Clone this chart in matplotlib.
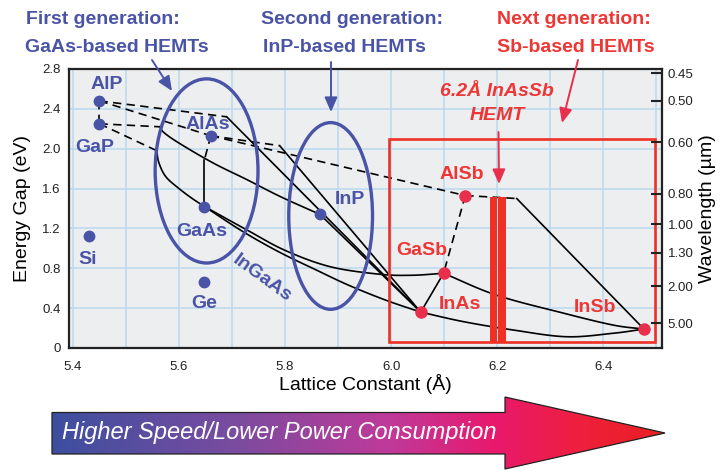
import numpy as np
import matplotlib
matplotlib.use('Agg')
import matplotlib.pyplot as plt
from matplotlib.patches import Ellipse, Rectangle, Polygon
from matplotlib.colors import LinearSegmentedColormap

plt.rcParams['font.family'] = ['Liberation Sans', 'DejaVu Sans']

# ---------------- data ----------------
blue_names = ['AlP', 'GaP', 'AlAs', 'GaAs', 'InP', 'Si', 'Ge']
blue_a = [5.45, 5.45, 5.66, 5.648, 5.866, 5.43, 5.647]
blue_E = [2.48, 2.25, 2.13, 1.42, 1.34, 1.12, 0.66]
blue_lab_a = [5.4636, 5.4415, 5.655, 5.643, 5.923, 5.427, 5.647]
blue_lab_E = [2.64, 2.008, 2.239, 1.168, 1.486, 0.884, 0.442]

red_names = ['AlSb', 'GaSb', 'InAs', 'InSb']
red_a = [6.14, 6.099, 6.056, 6.477]
red_E = [1.53, 0.75, 0.36, 0.19]
red_lab_a = [6.133, 6.058, 6.129, 6.385]
red_lab_E = [1.737, 0.977, 0.432, 0.409]

# dashed (indirect-gap) alloy branches
AlP_GaP_a = [5.45, 5.45];        AlP_GaP_E = [2.48, 2.25]
AlP_k1_a = [5.45, 5.69];         AlP_k1_E = [2.48, 2.32]
AlP_AlAs_a = [5.45, 5.66];       AlP_AlAs_E = [2.48, 2.13]
GaP_k3_a = [5.45, 5.564];        GaP_k3_E = [2.25, 2.22]
GaP_k4_a = [5.45, 5.558];        GaP_k4_E = [2.25, 1.98]
AlAs_k2_a = [5.66, 5.79];        AlAs_k2_E = [2.13, 2.03]
AlAs_AlSb_a = [5.66, 6.14];      AlAs_AlSb_E = [2.13, 1.53]
AlAs_kd_a = [5.66, 5.648];       AlAs_kd_E = [2.13, 1.89]
AlSb_k5_a = [6.14, 6.237];       AlSb_k5_E = [1.53, 1.50]
AlSb_GaSb_a = [6.14, 6.099];     AlSb_GaSb_E = [1.53, 0.75]

# solid (direct-gap) alloy branches
k1_InAs_a = [5.69, 6.056];       k1_InAs_E = [2.32, 0.36]
k2_InAs_a = [5.79, 6.056];       k2_InAs_E = [2.03, 0.36]
InP_InAs_a = [5.866, 6.056];     InP_InAs_E = [1.34, 0.36]
k3_InP_a = [5.564, 5.572, 5.602, 5.665, 5.728, 5.791, 5.866]
k3_InP_E = [2.22, 2.16, 2.05, 1.855, 1.69, 1.52, 1.34]
k4_GaAs_a = [5.558, 5.562, 5.575, 5.60, 5.625, 5.648]
k4_GaAs_E = [1.98, 1.86, 1.72, 1.60, 1.50, 1.42]
AlAs_GaAs_a = [5.648, 5.648];    AlAs_GaAs_E = [1.89, 1.42]
GaAs_InAs_a = [5.648, 5.72, 5.79, 5.86, 5.92, 5.99, 6.056]
GaAs_InAs_E = [1.42, 1.17, 0.96, 0.78, 0.63, 0.48, 0.36]
GaAs_GaSb_a = [5.648, 5.728, 5.80, 5.885, 5.979, 6.04, 6.099]
GaAs_GaSb_E = [1.42, 1.185, 0.98, 0.816, 0.74, 0.73, 0.75]
GaSb_InAs_a = [6.099, 6.056];    GaSb_InAs_E = [0.75, 0.36]
GaSb_InSb_a = [6.099, 6.199, 6.325, 6.419, 6.477]
GaSb_InSb_E = [0.75, 0.53, 0.35, 0.23, 0.19]
InAs_InSb_a = [6.056, 6.137, 6.231, 6.331, 6.419, 6.477]
InAs_InSb_E = [0.36, 0.264, 0.18, 0.113, 0.148, 0.19]
k5_InSb_a = [6.237, 6.477];      k5_InSb_E = [1.50, 0.19]

x_major = [5.4, 5.6, 5.8, 6.0, 6.2, 6.4]
x_minor = [5.5, 5.7, 5.9, 6.1, 6.3, 6.5]
y_major = [0, 0.4, 0.8, 1.2, 1.6, 2.0, 2.4, 2.8]
y_labels = ['0', '0.4', '0.8', '1.2', '1.6', '2.0', '2.4', '2.8']
wl_ticks = [0.45, 0.50, 0.60, 0.80, 1.00, 1.30, 2.00, 5.00]

# ---------------- styles ----------------
BLUE = '#4a54a6'
RED_T = '#ee3634'
RED_M = '#e8304c'
RED_R = '#ee3124'
BG = '#eceef0'
GRID = '#b9d8ef'

fig = plt.figure(figsize=(7.2, 4.7), dpi=100)
fig.patch.set_facecolor('white')
ax = fig.add_axes([69/720, 1-348/470, (662-69)/720, (348-69)/470])
ax.set_facecolor(BG)
ax.set_xlim(5.3925, 6.511)
ax.set_ylim(0, 2.8)
ax.set_xticks(x_major)
ax.set_xticks(x_minor, minor=True)
ax.set_xticklabels([f'{v:.1f}' for v in x_major])
ax.set_yticks(y_major)
ax.set_yticklabels(y_labels)
ax.grid(True, which='both', color=GRID, lw=1.1, zorder=0)
ax.set_axisbelow(True)
ax.tick_params(axis='both', which='both', length=0, labelsize=9.5, colors='#222222')
ax.tick_params(axis='x', pad=9)
ax.tick_params(axis='y', pad=6)
for s in ax.spines.values():
    s.set_linewidth(1.6)
    s.set_color('#222222')
ax.set_xlabel('Lattice Constant (Å)', fontsize=14, labelpad=1)
ax.set_ylabel('Energy Gap (eV)', fontsize=14, labelpad=8)

dashed = [(AlP_GaP_a, AlP_GaP_E), (AlP_k1_a, AlP_k1_E), (AlP_AlAs_a, AlP_AlAs_E),
          (GaP_k3_a, GaP_k3_E), (GaP_k4_a, GaP_k4_E), (AlAs_k2_a, AlAs_k2_E),
          (AlAs_AlSb_a, AlAs_AlSb_E), (AlAs_kd_a, AlAs_kd_E), (AlSb_k5_a, AlSb_k5_E),
          (AlSb_GaSb_a, AlSb_GaSb_E)]
solid = [(k1_InAs_a, k1_InAs_E), (k2_InAs_a, k2_InAs_E), (InP_InAs_a, InP_InAs_E),
         (k3_InP_a, k3_InP_E), (k4_GaAs_a, k4_GaAs_E), (AlAs_GaAs_a, AlAs_GaAs_E),
         (GaAs_InAs_a, GaAs_InAs_E), (GaAs_GaSb_a, GaAs_GaSb_E), (GaSb_InAs_a, GaSb_InAs_E),
         (GaSb_InSb_a, GaSb_InSb_E), (InAs_InSb_a, InAs_InSb_E), (k5_InSb_a, k5_InSb_E)]


def catmull(a, E, n=20):
    """Catmull-Rom spline passing through the read-off points."""
    P = np.column_stack([a, E]).astype(float)
    if len(P) < 3:
        return P[:, 0], P[:, 1]
    P = np.vstack([2 * P[0] - P[1], P, 2 * P[-1] - P[-2]])
    out = []
    t = np.linspace(0, 1, n, endpoint=False)[:, None]
    for i in range(1, len(P) - 2):
        p0, p1, p2, p3 = P[i - 1], P[i], P[i + 1], P[i + 2]
        seg = 0.5 * ((2 * p1) + (-p0 + p2) * t + (2 * p0 - 5 * p1 + 4 * p2 - p3) * t ** 2
                     + (-p0 + 3 * p1 - 3 * p2 + p3) * t ** 3)
        out.append(seg)
    out.append(P[-2][None, :])
    out = np.vstack(out)
    return out[:, 0], out[:, 1]


for a, E in dashed:
    ax.plot(a, E, color='black', lw=1.2, ls=(0, (5, 3.2)), zorder=3)
for a, E in solid:
    sa, sE = catmull(a, E)
    ax.plot(sa, sE, color='black', lw=1.2, zorder=3)

# ellipses
ax.add_patch(Ellipse((5.652, 1.777), 0.194, 1.848, fill=False, ec=BLUE, lw=2.4, zorder=4))
ax.add_patch(Ellipse((5.886, 1.325), 0.158, 1.874, fill=False, ec=BLUE, lw=2.4, zorder=4))

# red region and bar
ax.add_patch(Rectangle((5.997, 0.063), 6.498-5.997, 2.098-0.063, fill=False, ec=RED_R, lw=1.9, zorder=4))
ax.add_patch(Rectangle((6.187, 0.063), 0.0125, 1.52-0.063, fc=RED_R, ec='none', zorder=5))
ax.add_patch(Rectangle((6.2015, 0.063), 0.0155, 1.52-0.063, fc=RED_R, ec='none', zorder=5))

# points
ax.plot(blue_a, blue_E, 'o', ms=7.5, color=BLUE, zorder=6, ls='none')
ax.plot(red_a, red_E, 'o', ms=8, color=RED_M, zorder=6, ls='none')

for n, x, y in zip(blue_names, blue_lab_a, blue_lab_E):
    ax.text(x, y, n, color=BLUE, fontsize=14, fontweight='bold', ha='center', va='center', zorder=7)
ax.text(5.757, 0.70, 'InGaAs', color=BLUE, fontsize=14, fontweight='bold', ha='center',
        va='center', rotation=-36, zorder=7)
for n, x, y in zip(red_names, red_lab_a, red_lab_E):
    ax.text(x, y, n, color=RED_T, fontsize=14, fontweight='bold', ha='center', va='center', zorder=7)

# right axis: wavelength
ax2 = ax.twinx()
ax2.set_ylim(0, 2.8)
ax2.set_yticks([1.24 / w for w in wl_ticks])
ax2.set_yticklabels([f'{w:.2f}' for w in wl_ticks])
ax2.tick_params(axis='y', direction='in', length=8, width=1.5, labelsize=9.5, pad=4, colors='#222222')
ax2.set_ylabel('Wavelength (µm)', fontsize=14, labelpad=4)
for s in ax2.spines.values():
    s.set_visible(False)

# ---------------- overlay (figure pixel coordinates) ----------------
ov = fig.add_axes([0, 0, 1, 1])
ov.set_xlim(0, 720)
ov.set_ylim(470, 0)
ov.axis('off')
ov.patch.set_visible(False)

hdr = dict(fontsize=14, fontweight='bold', ha='left', va='baseline')
ov.text(26, 24, 'First generation:', color=BLUE, **hdr)
ov.text(25, 51.5, 'GaAs-based HEMTs', color=BLUE, **hdr)
ov.text(261, 24, 'Second generation:', color=BLUE, **hdr)
ov.text(263, 51.5, 'InP-based HEMTs', color=BLUE, **hdr)
ov.text(497, 24, 'Next generation:', color=RED_T, **hdr)
ov.text(497, 51.5, 'Sb-based HEMTs', color=RED_T, **hdr)
ov.text(497, 96.5, '6.2Å InAsSb', color=RED_T, fontsize=14, fontweight='bold',
        style='italic', ha='center', va='baseline')
ov.text(497, 120, 'HEMT', color=RED_T, fontsize=14, fontweight='bold',
        style='italic', ha='center', va='baseline')

ap = dict(arrowstyle='-|>,head_length=0.8,head_width=0.35', lw=1.4, mutation_scale=11,
          shrinkA=0, shrinkB=0)
ov.annotate('', xy=(172, 91), xytext=(152, 60), arrowprops=dict(color=BLUE, **ap))
ov.annotate('', xy=(331, 112), xytext=(331, 62), arrowprops=dict(color=BLUE, **ap))
ov.annotate('', xy=(562, 123), xytext=(578, 60), arrowprops=dict(color=RED_M, **ap))
ov.annotate('', xy=(499, 184), xytext=(498.5, 132), arrowprops=dict(color=RED_M, **ap))

# gradient arrow
verts = [(52, 412.5), (505, 412.5), (505, 397), (665, 433), (505, 469), (505, 454), (52, 454)]
poly = Polygon(verts, closed=True, fc='none', ec='#222222', lw=0.9, zorder=3)
ov.add_patch(poly)
cmap = LinearSegmentedColormap.from_list('g', [(0, '#3d4fa0'), (0.3, '#7a4c9f'),
                                              (0.55, '#bf3a9a'), (0.72, '#e8196e'),
                                              (0.88, '#ee2038'), (1.0, '#e81e22')])
grad = np.linspace(0, 1, 256).reshape(1, -1)
im = ov.imshow(grad, extent=(52, 665, 469, 397), cmap=cmap, aspect='auto', zorder=2)
im.set_clip_path(poly)
ov.set_xlim(0, 720)
ov.set_ylim(470, 0)
ov.text(62, 433, 'Higher Speed/Lower Power Consumption', color='white', fontsize=17,
        style='italic', ha='left', va='center', zorder=4)

fig.savefig('out.png', dpi=100)
